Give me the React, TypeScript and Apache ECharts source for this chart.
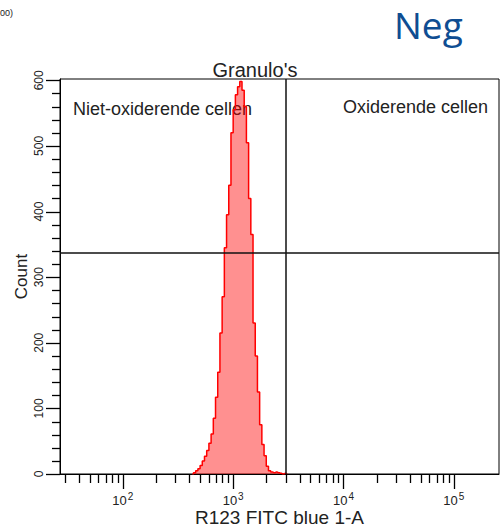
import { useEffect, useRef } from "react";
import * as echarts from "echarts";

// Histogram bins (log10 of fluorescence), counts
const binLogStart = 2.62;
const binLogWidth = 0.02;
const counts = [
  0, 2, 5, 8, 13, 20, 27, 36, 47, 61, 85, 117, 155, 215, 270, 345, 395, 440,
  520, 555, 578, 590, 598, 585, 560, 505, 420, 365, 230, 180, 125, 75, 45, 28,
  12, 5, 3, 2, 3, 2, 1, 0, 1, 0,
];

// Axis extents
const xMinLog = 1.43;
const xMaxLog = 5.41;
const yMin = 0;
const yMax = 602;

// Ticks
const xMajorDecades = [2, 3, 4, 5];
const xMinorMultipliers = [2, 3, 4, 5, 6, 7, 8, 9];
const xMinorDecades = [1, 2, 3, 4, 5];
const yMajorTicks = [0, 100, 200, 300, 400, 500, 600];
const yMinorTicks = [
  20, 40, 60, 80, 120, 140, 160, 180, 220, 240, 260, 280, 320, 340, 360, 380,
  420, 440, 460, 480, 520, 540, 560, 580,
];

// Quadrant gate
const quadX = 3050;
const quadY = 337;

const FONT = "Liberation Sans";
const TICK = { stroke: "#000", lineWidth: 1.3 };

export default function App() {
  const ref = useRef<HTMLDivElement>(null);

  useEffect(() => {
    if (!ref.current) return;
    const chart = echarts.init(ref.current, undefined, { renderer: "svg" });

    const minorX: number[] = [];
    xMinorDecades.forEach((d) =>
      xMinorMultipliers.forEach((m) => {
        const v = Math.log10(m * Math.pow(10, d - 1));
        if (v > xMinLog && v < xMaxLog) minorX.push(v);
      })
    );

    const data = counts.map((c, i) => [binLogStart + binLogWidth * (i + 0.5), c]);

    const xTickSeries = (values: number[], len: number) => ({
      type: "custom",
      silent: true,
      clip: false,
      z: 10,
      data: values.map((v) => [v, yMin]),
      renderItem: (_p: any, api: any) => {
        const pt = api.coord([api.value(0), yMin]);
        const x = Math.round(pt[0]) + 0.5;
        const y = Math.round(pt[1]);
        return {
          type: "line",
          shape: { x1: x, y1: y, x2: x, y2: y + len },
          style: TICK,
        };
      },
    });

    const yTickSeries = (values: number[], len: number) => ({
      type: "custom",
      silent: true,
      clip: false,
      z: 10,
      data: values.map((v) => [xMinLog, v]),
      renderItem: (_p: any, api: any) => {
        const pt = api.coord([xMinLog, api.value(1)]);
        const x = Math.round(pt[0]);
        const y = Math.round(pt[1]) + 0.5;
        return {
          type: "line",
          shape: { x1: x, y1: y, x2: x - len, y2: y },
          style: TICK,
        };
      },
    });

    chart.setOption({
      animation: false,
      backgroundColor: "#ffffff",
      grid: {
        left: 60,
        right: 1,
        top: 79,
        bottom: 55,
        show: true,
        borderColor: "#000",
        borderWidth: 1,
        backgroundColor: "transparent",
        containLabel: false,
        outerBoundsMode: "none",
      },
      xAxis: {
        type: "value",
        min: xMinLog,
        max: xMaxLog,
        splitLine: { show: false },
        axisLine: { show: true, lineStyle: { color: "#000", width: 1 } },
        axisTick: { show: false },
        nameMoveOverlap: false,
        axisLabel: {
          show: true,
          customValues: xMajorDecades,
          margin: 17,
          formatter: (v: number) => `{b|10}{s|${Math.round(v)}}`,
          rich: {
            b: { fontFamily: FONT, fontSize: 13, color: "#222", lineHeight: 14 },
            s: { fontFamily: FONT, fontSize: 10, color: "#222", padding: [0, 0, 9, 1] },
          },
        },
        name: "R123 FITC blue 1-A",
        nameLocation: "middle",
        nameGap: 34,
        nameTextStyle: { fontFamily: FONT, fontSize: 19, color: "#222" },
      },
      yAxis: {
        type: "value",
        min: yMin,
        max: yMax,
        splitLine: { show: false },
        axisLine: { show: true, lineStyle: { color: "#000", width: 1 } },
        axisTick: { show: false },
        nameMoveOverlap: false,
        axisLabel: {
          show: true,
          customValues: yMajorTicks,
          rotate: 90,
          margin: 15,
          fontFamily: FONT,
          fontSize: 12,
          color: "#222",
        },
        name: "Count",
        nameLocation: "middle",
        nameGap: 30,
        nameRotate: 90,
        nameTextStyle: { fontFamily: FONT, fontSize: 17, color: "#222" },
      },
      series: [
        {
          type: "line",
          step: "middle",
          symbol: "none",
          data,
          lineStyle: { color: "#ff0000", width: 1.5 },
          areaStyle: { color: "rgba(255,0,0,0.62)" },
          markLine: {
            silent: true,
            symbol: ["none", "none"],
            label: { show: false },
            lineStyle: { color: "#111", type: "solid", width: 1.5 },
            data: [{ xAxis: Math.log10(quadX) }, { yAxis: quadY }],
          },
        },
        xTickSeries(minorX, 9),
        xTickSeries(xMajorDecades, 15),
        yTickSeries(yMinorTicks, 8),
        yTickSeries(yMajorTicks, 14),
      ],
      graphic: [
        { type: "text", x: 255, y: 60, style: { text: "Granulo's", fontFamily: FONT, fontSize: 20, fill: "#222", textAlign: "center" } },
        { type: "text", x: 73, y: 100, style: { text: "Niet-oxiderende cellen", fontFamily: FONT, fontSize: 18, fill: "#222" } },
        { type: "text", x: 343, y: 98, style: { text: "Oxiderende cellen", fontFamily: FONT, fontSize: 18, fill: "#222" } },
        { type: "text", x: 394, y: 6, style: { text: "Neg", fontFamily: "Open Sans", fontSize: 37, fill: "#0f4d92" } },
        { type: "text", x: 0, y: 8, style: { text: "00)", fontFamily: FONT, fontSize: 9, fill: "#222" } },
      ],
    });

    return () => chart.dispose();
  }, []);

  return (
    <div ref={ref} style={{ position: "fixed", left: 0, top: 0, width: 500, height: 529 }} />
  );
}
